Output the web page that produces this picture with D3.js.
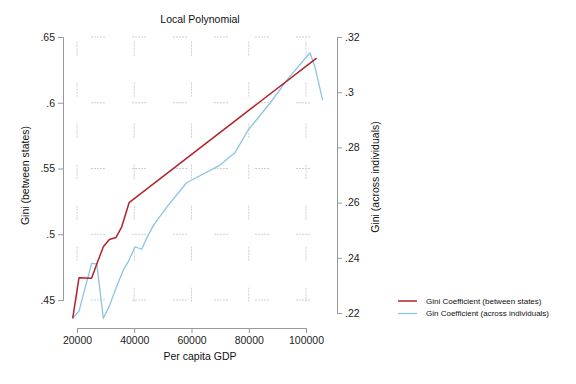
<!DOCTYPE html>
<html>
<head>
<meta charset="utf-8">
<script src="https://cdn.jsdelivr.net/npm/d3@7"></script>
<style>
  body { margin: 0; background: #fff; }
  svg { display: block; font-family: "Liberation Sans", Arial, sans-serif; }
</style>
</head>
<body>
<svg id="chart" width="576" height="384"></svg>
<script>
// --- data ---
const betweenGdp  = [18500, 20700, 25100, 27200, 29200, 31300, 33600, 35600, 38200, 103700];
const betweenGini = [0.436, 0.467, 0.4665, 0.479, 0.4905, 0.496, 0.4975, 0.5055, 0.524, 0.634];

const acrossGdp  = [18500, 20700, 25100, 26900, 29200, 31300, 33600, 36200, 37900, 40300, 42600, 44900,
                    47000, 51900, 58300, 70000, 73400, 75200, 79800, 87400, 93800, 101400, 103100, 105800];
const acrossGini = [0.2181, 0.2207, 0.238, 0.2378, 0.2181, 0.2225, 0.229, 0.2356, 0.2386, 0.244, 0.2431, 0.2483,
                    0.2522, 0.2591, 0.2672, 0.2736, 0.2766, 0.2781, 0.2863, 0.296, 0.305, 0.3143, 0.3092, 0.2972];

const xTicks = [20000, 40000, 60000, 80000, 100000];
const leftTicks = [0.45, 0.5, 0.55, 0.6, 0.65];
const rightTicks = [0.22, 0.24, 0.26, 0.28, 0.3, 0.32];

const seriesNames = ["Gini Coefficient (between states)", "Gin Coefficient (across individuals)"];
const seriesColors = ["#b3232b", "#8cc3e3"];

// --- layout ---
const svg = d3.select("#chart");
const plot = { left: 63, right: 337, top: 28, bottom: 328 };

const x = d3.scaleLinear().domain([20000, 100000]).range([77, 306]);
const yL = d3.scaleLinear().domain([0.45, 0.65]).range([300, 37]);
const yR = d3.scaleLinear().domain([0.22, 0.32]).range([313, 37]);

const stripZero = d => String(d).replace(/^0/, "");
const axisColor = "#9a9a9a";

// grid: dotted dashes with long gaps (stata style)
const dash = "2,1,2,1,2,1,2,1,2,27";
const period = 41;
const grid = svg.append("g").attr("fill", "none").attr("stroke", "#cfcfcf").attr("stroke-width", 1);

grid.selectAll("line.h").data(leftTicks).enter().append("line")
    .attr("x1", plot.left + 1).attr("x2", plot.right)
    .attr("y1", d => yL(d)).attr("y2", d => yL(d))
    .attr("stroke-dasharray", dash)
    .attr("stroke-dashoffset", period - 27);

grid.selectAll("line.v").data(xTicks).enter().append("line")
    .attr("x1", d => x(d)).attr("x2", d => x(d))
    .attr("y1", plot.top).attr("y2", plot.bottom - 1)
    .attr("stroke-dasharray", dash)
    .attr("stroke-dashoffset", period - 13.7);

// axes
function styleAxis(g) {
    g.select(".domain").attr("stroke", axisColor);
    g.selectAll(".tick line").attr("stroke", axisColor);
    g.selectAll(".tick text").attr("fill", "#222").attr("font-size", "10.5px");
}

svg.append("g")
    .attr("transform", `translate(0,${plot.bottom})`)
    .call(d3.axisBottom(x).tickValues(xTicks).tickFormat(d3.format("d")).tickSizeOuter(0).tickSize(5).tickPadding(4))
    .call(styleAxis)
    .attr("font-family", null);

svg.append("g")
    .attr("transform", `translate(${plot.left},0)`)
    .call(d3.axisLeft(yL).tickValues(leftTicks).tickFormat(stripZero).tickSizeOuter(0).tickSize(5).tickPadding(3))
    .call(styleAxis)
    .attr("font-family", null);

svg.append("g")
    .attr("transform", `translate(${plot.right},0)`)
    .call(d3.axisRight(yR).tickValues(rightTicks).tickFormat(stripZero).tickSizeOuter(0).tickSize(5).tickPadding(3))
    .call(styleAxis)
    .attr("font-family", null);

// lines
const lineL = d3.line().x(d => x(d[0])).y(d => yL(d[1]));
const lineR = d3.line().x(d => x(d[0])).y(d => yR(d[1]));

svg.append("path")
    .datum(d3.zip(acrossGdp, acrossGini))
    .attr("fill", "none").attr("stroke", seriesColors[1]).attr("stroke-width", 1.3)
    .attr("stroke-linejoin", "round")
    .attr("d", lineR);

svg.append("path")
    .datum(d3.zip(betweenGdp, betweenGini))
    .attr("fill", "none").attr("stroke", seriesColors[0]).attr("stroke-width", 1.5)
    .attr("stroke-linejoin", "round")
    .attr("d", lineL);

// titles
svg.append("text").attr("x", 200).attr("y", 23).attr("text-anchor", "middle")
    .attr("font-size", "10.5px").attr("fill", "#111").text("Local Polynomial");

svg.append("text").attr("x", 200).attr("y", 360).attr("text-anchor", "middle")
    .attr("font-size", "10.5px").attr("fill", "#111").text("Per capita GDP");

svg.append("text").attr("transform", "translate(29,175.5) rotate(-90)").attr("text-anchor", "middle")
    .attr("font-size", "10.5px").attr("fill", "#111").text("Gini (between states)");

svg.append("text").attr("transform", "translate(379,177) rotate(-90)").attr("text-anchor", "middle")
    .attr("font-size", "10.5px").attr("fill", "#111").text("Gini (across individuals)");

// legend
const legend = svg.append("g").attr("transform", "translate(398,301)");
const items = legend.selectAll("g").data(seriesNames).enter().append("g")
    .attr("transform", (d, i) => `translate(0,${i * 12.5})`);
items.append("line").attr("x1", 0).attr("x2", 19)
    .attr("stroke", (d, i) => seriesColors[i])
    .attr("stroke-width", (d, i) => i === 0 ? 1.5 : 1.3);
items.append("text").attr("x", 28).attr("dy", "0.35em")
    .attr("font-size", "8px").attr("fill", "#111").text(d => d);
</script>
</body>
</html>
